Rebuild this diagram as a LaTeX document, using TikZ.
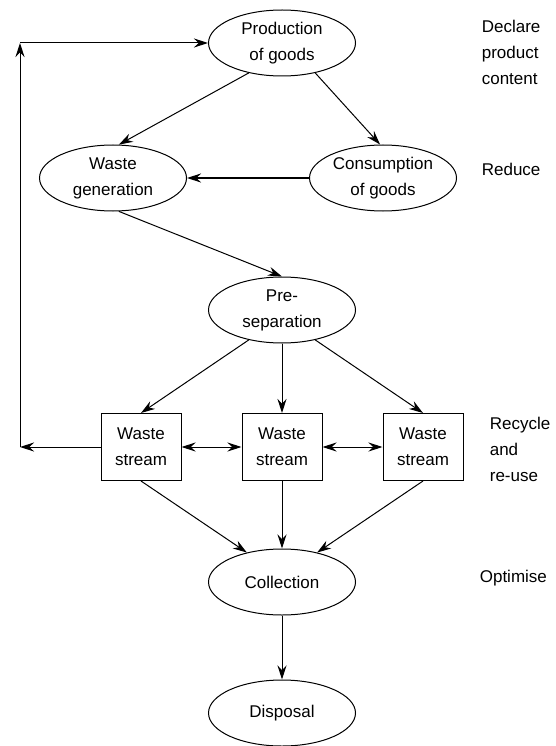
\documentclass[tikz,border=0pt]{standalone}
\usepackage{fontspec}
\setmainfont{Liberation Sans}
\usetikzlibrary{shapes.geometric,arrows.meta}

\begin{document}
\begin{tikzpicture}
            [
                x = 1pt, y = -1pt,
                line width = 1pt,
                every node/.style = {align=center,
                font=\fontsize{17}{26}\selectfont},
                stage/.style  = {shape=ellipse, draw,
                minimum width=147pt, minimum height=66pt, inner sep=0pt},
                stream/.style = {shape=rectangle, draw,
                minimum width=80pt, minimum height=67pt, inner sep=0pt},
                note/.style   = {anchor=west, align=left},
                flow/.style   = {-{Stealth[length=14pt, width=9pt]}},
                link/.style   = {{Stealth[length=14pt, width=9pt]}-{Stealth[length=14pt, width=9pt]}}
            ]
            \useasboundingbox (0,0) rectangle (555,746);
            \node [stage] (prod)   at (282,43)  {Production \\ of goods};
            \node [stage] (wgen)   at (113,178) {Waste \\ generation};
            \node [stage] (cons)   at (383,178) {Consumption \\ of goods};
            \node [stage] (presep) at (282,310) {Pre- \\ separation};
            \node [stream] (ws1) at (141,447) {Waste \\ stream};
            \node [stream] (ws2) at (282,447) {Waste \\ stream};
            \node [stream] (ws3) at (423,447) {Waste \\ stream};
            \node [stage] (coll) at (282,582) {Collection};
            \node [stage] (disp) at (282,713) {Disposal};
            \node [note] (declare)  at (478,52)  {Declare \\ product \\ content};
            \node [note] (reduce)   at (478,169) {Reduce};
            \node [note] (recycle)  at (486,449) {Recycle \\ and \\ re-use};
            \node [note] (optimise) at (476,578) {Optimise};
            \coordinate (loopdown) at (20,447);
            \coordinate (looptop)  at (20,43);
            \draw [flow] (prod.222) -- (wgen.80);
            \draw [flow] (prod.318) -- (cons.95);
            \draw [flow] (cons.west) -- (wgen.east);
            \draw [flow] (wgen.280) -- (presep.north);
            \draw [flow] (presep.222) -- (ws1.north);
            \draw [flow] (presep.south) -- (ws2.north);
            \draw [flow] (presep.318) -- (ws3.north);
            \draw [link] (ws1.east) -- (ws2.west);
            \draw [link] (ws2.east) -- (ws3.west);
            \draw [flow] (ws1.south) -- (coll.140);
            \draw [flow] (ws2.south) -- (coll.north);
            \draw [flow] (ws3.south) -- (coll.40);
            \draw [flow] (coll.south) -- (disp.north);
            \draw [flow] (ws1.west) -- (loopdown);
            \draw [flow] (loopdown) -- (looptop);
            \draw [flow] (looptop) -- (prod.west);
        \end{tikzpicture}
\end{document}
